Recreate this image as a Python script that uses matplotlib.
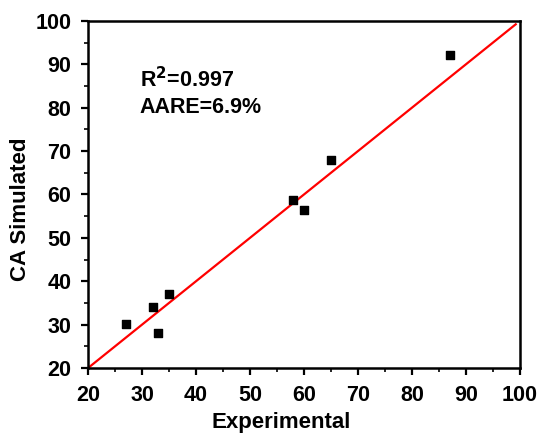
import matplotlib
matplotlib.use("Agg")
import matplotlib.pyplot as plt
from matplotlib.ticker import MultipleLocator

# experimental vs simulated contact angle
experimental = [27, 32, 33, 35, 58, 60, 65, 87]
simulated = [30.1, 34.1, 28.1, 37.0, 58.7, 56.4, 67.9, 92.1]
line_x = [20, 99.2]
ticks = [20, 30, 40, 50, 60, 70, 80, 90, 100]

plt.rcParams["font.family"] = ["Liberation Sans", "DejaVu Sans"]
plt.rcParams["font.weight"] = "bold"

fig = plt.figure(figsize=(5.38, 4.34), dpi=100)
ax = fig.add_axes([0.1636, 0.152, 0.803, 0.80])

ax.plot(line_x, line_x, color="red", lw=1.6, zorder=2)
ax.scatter(experimental, simulated, marker="s", s=26, color="black", zorder=3)

ax.set_xlim(20, 100)
ax.set_ylim(20, 100)
ax.set_xticks(ticks, [str(t) for t in ticks], fontweight="bold", fontsize=15.5)
ax.set_yticks(ticks, [str(t) for t in ticks], fontweight="bold", fontsize=15.5)
ax.xaxis.set_minor_locator(MultipleLocator(5))
ax.yaxis.set_minor_locator(MultipleLocator(5))
ax.tick_params(which="major", direction="out", length=5, width=1.6, pad=7)
ax.tick_params(which="minor", direction="out", length=3, width=1.2)
for sp in ax.spines.values():
    sp.set_linewidth(1.8)

ax.set_xlabel("Experimental", fontsize=16, fontweight="bold")
ax.set_ylabel("CA Simulated", fontsize=16, fontweight="bold")
ax.xaxis.set_label_coords(0.447, -0.128)
ax.yaxis.set_label_coords(-0.132, 0.458)

ax.text(29.6, 86.4, r"R$^\mathbf{2}$=0.997", fontsize=15.5, fontweight="bold", va="center")
ax.text(29.6, 80.1, "AARE=6.9%", fontsize=15.5, fontweight="bold", va="center")

fig.savefig("out.png", dpi=100)
